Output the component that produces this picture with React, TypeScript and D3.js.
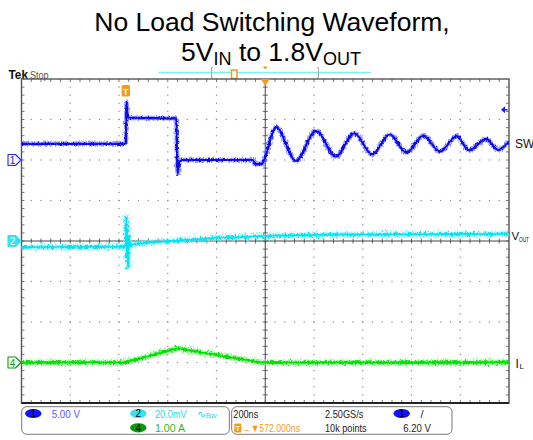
import React from "react";
import * as d3 from "d3";

// ---- data (time in ns relative to screen centre) ----
const TIME_RANGE = [-1000, 1000];
const DIV_RANGE = [-4, 4];

// Channel 1 : SW node (V), 5 V/div
const swT = [-1000, -575, -572, -569, -565, -555, -370, -365, -360, -352, -340, -50, -42, -15, -5, 44, 126, 208, 290, 365, 438, 511, 580, 648, 717, 785, 836, 906, 955, 1000];
const swV = [2.0, 2.0, 2.1, 7.2, 5.4, 5.2, 5.15, 5.1, -1.7, -0.2, 0.0, 0.0, -0.5, -0.5, 0.0, 4.07, -0.1, 3.6, 0.45, 3.3, 0.7, 3.15, 0.9, 3.0, 1.05, 2.95, 1.2, 2.6, 1.25, 2.3];

// Channel 2 : Vout AC ripple (mV), 20 mV/div
const voT = [-1000, -600, -575, -572, -570, -568, -566, -563, -560, -556, -545, -450, -350, -200, 0, 300, 1000];
const voV = [-3, -2.8, -2.8, 0, 11.5, -8, 6, -13, 2, -3, -1.5, -0.5, 0.3, 1.5, 2.5, 3.2, 3.5];

// Channel 4 : inductor current (A), 1 A/div
const ilT = [-1000, -575, -362, -15, 1000];
const ilV = [0, 0, 0.35, 0, 0];

const CH1_SCALE = 5;
const CH2_SCALE = 20;
const CH4_SCALE = 1;
const CH1_OFFSET = 2;
const CH2_OFFSET = 0;
const CH4_OFFSET = -3;
const TRIGGER_NS = -572;
const TRIGGER_LEVEL = 6.2;

const rightLabels = ["SW", "V", "OUT", "I", "L"];
const infoLeft = ["5.00 V", "20.0mV", "1.00 A"];
const infoRight = ["200ns", "2.50GS/s", "10k points", "6.20 V", "→▼572.000ns"];

const W = 533, H = 440;
const L = 21.5, R = 509, T = 79, B = 403;

const sans = "'Liberation Sans', Arial, sans-serif";

export default function App() {
  const x = d3.scaleLinear().domain(TIME_RANGE).range([L, R]);
  const yd = d3.scaleLinear().domain(DIV_RANGE).range([B, T]);
  const y1 = (v: number) => yd(v / CH1_SCALE + CH1_OFFSET);
  const y2 = (v: number) => yd(v / CH2_SCALE + CH2_OFFSET);
  const y4 = (v: number) => yd(v / CH4_SCALE + CH4_OFFSET);

  const sw = d3.line<number>().x((_, i) => x(swT[i])).y((d) => y1(d)).curve(d3.curveMonotoneX)(swV) || "";
  const vo = d3.line<number>().x((_, i) => x(voT[i])).y((d) => y2(d)).curve(d3.curveLinear)(voV) || "";
  const il = d3.line<number>().x((_, i) => x(ilT[i])).y((d) => y4(d)).curve(d3.curveLinear)(ilV) || "";

  const divW = (R - L) / 10;
  const divH = (B - T) / 8;
  const cx = x(0);
  const cy = yd(0);

  const dots: JSX.Element[] = [];
  for (let i = 1; i < 10; i++) {
    if (i === 5) continue;
    const gx = L + i * divW;
    for (let k = 1; k < 40; k++) {
      dots.push(<rect key={`v${i}-${k}`} x={gx - 0.6} y={T + k * divH / 5 - 0.6} width={1.2} height={1.2} fill="#8a8a8a" />);
    }
  }
  for (let j = 1; j < 8; j++) {
    if (j === 4) continue;
    const gy = T + j * divH;
    for (let k = 1; k < 50; k++) {
      dots.push(<rect key={`h${j}-${k}`} x={L + k * divW / 5 - 0.6} y={gy - 0.6} width={1.2} height={1.2} fill="#8a8a8a" />);
    }
  }
  const ticks: JSX.Element[] = [];
  for (let k = 1; k < 50; k++) {
    const tx = L + k * divW / 5;
    ticks.push(<line key={`tt${k}`} x1={tx} x2={tx} y1={T} y2={T + 3} stroke="#555" strokeWidth={0.8} />);
    ticks.push(<line key={`tb${k}`} x1={tx} x2={tx} y1={B} y2={B - 3} stroke="#555" strokeWidth={0.8} />);
    ticks.push(<line key={`tc${k}`} x1={tx} x2={tx} y1={cy - 2.5} y2={cy + 2.5} stroke="#444" strokeWidth={0.8} />);
  }
  for (let k = 1; k < 40; k++) {
    const ty = T + k * divH / 5;
    ticks.push(<line key={`tl${k}`} x1={L} x2={L + 3} y1={ty} y2={ty} stroke="#555" strokeWidth={0.8} />);
    ticks.push(<line key={`tr${k}`} x1={R} x2={R - 3} y1={ty} y2={ty} stroke="#555" strokeWidth={0.8} />);
    ticks.push(<line key={`tm${k}`} x1={cx - 2.5} x2={cx + 2.5} y1={ty} y2={ty} stroke="#444" strokeWidth={0.8} />);
  }

  const marker = (y: number, label: string, fill: string, stroke: string, txt: string) => (
    <g>
      <path d={`M8,${y - 5.5} H15.5 L21,${y} L15.5,${y + 5.5} H8 Z`} fill={fill} stroke={stroke} strokeWidth={1.1} strokeLinejoin="round" />
      <text x={12.5} y={y + 4} fontSize={10} fontFamily={sans} textAnchor="middle" fill={txt}>{label}</text>
    </g>
  );

  const trace = (d: string, core: string, halo: string, noiseId: string, w: number, haloW: number) => (
    <g clipPath="url(#plotClip)">
      <path d={d} fill="none" stroke={halo} strokeWidth={haloW} opacity={0.6} filter={`url(#${noiseId})`} strokeLinejoin="round" />
      <path d={d} fill="none" stroke={core} strokeWidth={w} filter={`url(#${noiseId}b)`} strokeLinejoin="round" />
      <path d={d} fill="none" stroke={core} strokeWidth={1.3} strokeLinejoin="round" />
    </g>
  );

  const trigX = x(TRIGGER_NS);
  const trigY = y1(TRIGGER_LEVEL);
  const orange = "#f59a1b";

  const info = (tx: number, ty: number, s: string, w: number, fill: string) => (
    <text x={tx} y={ty} fontSize={11} fontFamily={sans} fill={fill} textLength={w} lengthAdjust="spacingAndGlyphs">{s}</text>
  );

  return (
    <svg width={W} height={H} style={{ position: "absolute", left: 0, top: 0, background: "#fff" }}>
      <defs>
        <clipPath id="plotClip"><rect x={L} y={T} width={R - L} height={B - T} /></clipPath>
        {[["n1", 3, 5], ["n2", 7, 10], ["n4", 11, 8]].map(([id, seed, sc]) => (
          <React.Fragment key={id as string}>
            <filter id={id as string} filterUnits="userSpaceOnUse" x={0} y={0} width={W} height={H}>
              <feTurbulence type="fractalNoise" baseFrequency="0.8 0.25" numOctaves={2} seed={seed as number} result="t" />
              <feDisplacementMap in="SourceGraphic" in2="t" scale={sc as number} xChannelSelector="R" yChannelSelector="G" />
            </filter>
            <filter id={`${id}b`} filterUnits="userSpaceOnUse" x={0} y={0} width={W} height={H}>
              <feTurbulence type="fractalNoise" baseFrequency="0.6 0.4" numOctaves={2} seed={(seed as number) + 20} result="t" />
              <feDisplacementMap in="SourceGraphic" in2="t" scale={(sc as number) * 0.8} xChannelSelector="R" yChannelSelector="G" />
            </filter>
          </React.Fragment>
        ))}
      </defs>

      {/* title */}
      <text x={272} y={30.5} fontSize={26.5} fontFamily={sans} textAnchor="middle" fill="#000">No Load Switching Waveform,</text>
      <text x={271} y={61} fontSize={26.5} fontFamily={sans} textAnchor="middle" fill="#000">
        5V<tspan fontSize={18} dy={3.5}>IN</tspan><tspan dy={-3.5}> to 1.8V</tspan><tspan fontSize={18} dy={3.5}>OUT</tspan>
      </text>

      {/* top bar */}
      <text x={8.5} y={78.7} fontSize={13} fontWeight="bold" fontFamily={sans} fill="#111" textLength={19.5} lengthAdjust="spacingAndGlyphs">Tek</text>
      <text x={30} y={78.7} fontSize={11} fontFamily={sans} fill="#555" textLength={18.6} lengthAdjust="spacingAndGlyphs">Stop</text>
      <line x1={158.5} x2={371.5} y1={72.5} y2={72.5} stroke="#7ff0f0" strokeWidth={1.6} />
      <path d="M213,67.5 H211.5 V77.5 H213" fill="none" stroke="#aaa" strokeWidth={1} />
      <path d="M317,67.5 H318.5 V77.5 H317" fill="none" stroke="#aaa" strokeWidth={1} />
      <rect x={231.5} y={70} width={5.5} height={8.5} fill="#fff" stroke={orange} strokeWidth={1.5} />
      <path d={`M${cx - 2.5},66.5 L${cx + 2.5},66.5 L${cx},69.5 Z`} fill={orange} />

      {/* graticule */}
      {dots}
      <line x1={cx} x2={cx} y1={T} y2={B} stroke="#444" strokeWidth={1} />
      <line x1={L} x2={R} y1={cy} y2={cy} stroke="#444" strokeWidth={1} />
      {ticks}
      <rect x={L} y={T} width={R - L} height={B - T} fill="none" stroke="#555" strokeWidth={1.4} />
      <line x1={L} x2={R} y1={B} y2={B} stroke="#222" strokeWidth={2} />

      {/* traces */}
      {trace(il, "#00e000", "#60f860", "n4", 2.6, 5.5)}
      {trace(vo, "#00e4f2", "#70f0ff", "n2", 2.2, 5)}
      {trace(sw, "#0a0ae8", "#5a5aff", "n1", 2.2, 4.5)}

      {/* trigger markers */}
      <path d={`M${cx - 4.5},${T} L${cx + 4.5},${T} L${cx},${T + 7} Z`} fill={orange} />
      <rect x={trigX - 4.2} y={85} width={8.4} height={11.5} rx={1.5} fill={orange} />
      <text x={trigX} y={94.5} fontSize={9} fontFamily={sans} fontWeight="bold" textAnchor="middle" fill="#fff">T</text>
      <path d={`M${R - 8},${trigY} L${R - 4},${trigY - 3.5} L${R - 4},${trigY + 3.5} Z`} fill="#1a1aff" />
      <line x1={R - 5} x2={R - 1.5} y1={trigY} y2={trigY} stroke="#1a1aff" strokeWidth={1.5} />

      {/* channel ground markers */}
      {marker(y1(0), "1", "#f4f4ff", "#2a2ad8", "#2a2ad8")}
      {marker(y2(0), "2", "#33e3ee", "#33e3ee", "#ffffff")}
      {marker(y4(0), "4", "#f0fff0", "#109a10", "#109a10")}

      {/* right labels */}
      <text x={515} y={148} fontSize={12} fontFamily={sans} fill="#111">{rightLabels[0]}</text>
      <text x={511.5} y={240} fontSize={11.5} fontFamily={sans} fill="#111">{rightLabels[1]}</text>
      <text x={519} y={242} fontSize={6.5} fontFamily={sans} fill="#111" textLength={10} lengthAdjust="spacingAndGlyphs">{rightLabels[2]}</text>
      <text x={515.5} y={368} fontSize={12} fontFamily={sans} fill="#111">{rightLabels[3]}</text>
      <text x={519.5} y={369} fontSize={8} fontFamily={sans} fill="#111">{rightLabels[4]}</text>

      {/* bottom info panels */}
      <rect x={21.7} y={406.7} width={207.6} height={27.6} rx={5} fill="#fff" stroke="#777" strokeWidth={1} />
      <rect x={231.7} y={406.7} width={220.3} height={27.6} rx={5} fill="#fff" stroke="#777" strokeWidth={1} />

      <ellipse cx={33.3} cy={413.5} rx={8.2} ry={4.6} fill="#1414f0" />
      <text x={33.3} y={417.3} fontSize={10} fontFamily={sans} textAnchor="middle" fill="#000">1</text>
      {info(51.7, 417.5, infoLeft[0], 28.3, "#5a5aff")}

      <ellipse cx={138.3} cy={413.5} rx={8.2} ry={4.6} fill="#33e3ee" />
      <text x={138.3} y={417.3} fontSize={10} fontFamily={sans} textAnchor="middle" fill="#000">2</text>
      {info(155, 417.5, infoLeft[1], 31.7, "#30d8e4")}
      <text x={196.7} y={417.5} fontSize={11} fontFamily={sans} fill="#30d8e4">∿<tspan fontSize={8}>Bw</tspan></text>

      <ellipse cx={138.3} cy={427.8} rx={8.2} ry={4.6} fill="#0b960b" />
      <text x={138.3} y={431.6} fontSize={10} fontFamily={sans} textAnchor="middle" fill="#000">4</text>
      {info(155, 432, infoLeft[2], 30, "#2ab82a")}

      {info(233.3, 417.5, infoRight[0], 25, "#222")}
      <rect x={234.3} y={423.5} width={7} height={9} rx={1} fill={orange} />
      <text x={237.8} y={431.3} fontSize={7.5} fontFamily={sans} fontWeight="bold" textAnchor="middle" fill="#fff">T</text>
      {info(242, 432, infoRight[4], 58, orange)}
      {info(325, 417.5, infoRight[1], 38.3, "#222")}
      {info(325, 432, infoRight[2], 41.7, "#222")}
      <ellipse cx={401.7} cy={413.5} rx={8.2} ry={4.6} fill="#1414f0" />
      <text x={401.7} y={417.3} fontSize={10} fontFamily={sans} textAnchor="middle" fill="#000">1</text>
      <text x={420.5} y={417.5} fontSize={11} fontFamily={sans} fill="#222">/</text>
      {info(403.3, 432, infoRight[3], 27.7, "#222")}
    </svg>
  );
}
